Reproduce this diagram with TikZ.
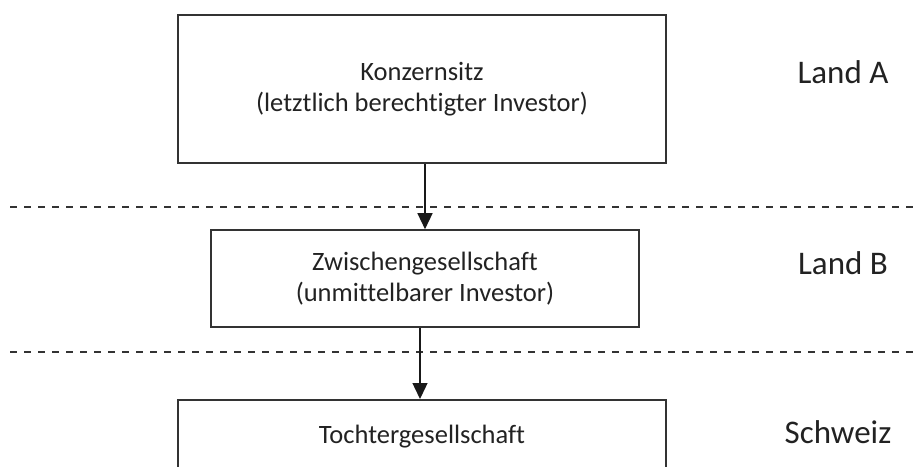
\documentclass[tikz,border=0pt]{standalone}
\usepackage{fontspec}
\setmainfont[Ligatures=NoCommon]{Carlito}
\usetikzlibrary{arrows.meta}
\definecolor{linegray}{HTML}{333333}
\definecolor{textgray}{HTML}{222222}
\tikzset{
		entity/.style  = {shape=rectangle, draw=linegray, line width=1.6pt,
				align=center, text=textgray, inner sep=0pt,
				font=\fontsize{26.5}{31}\selectfont},
		country/.style = {text=textgray, font=\fontsize{33}{40}\selectfont},
		border/.style  = {draw=linegray, line width=1.4pt, dash pattern=on 7pt off 7pt},
		flow/.style    = {draw=black!90, line width=1.4pt,
				-{Triangle[length=16pt,width=15pt]}}
	}

\begin{document}
\begin{tikzpicture}
				[x = 1pt, y = -1pt]
				\useasboundingbox (0,0) rectangle (915,466);
				\clip (0,0) rectangle (915,466);
				% Ebenen
				\draw [border] (10,207) -- (915,207);
				\draw [border] (10,352) -- (915,352);
				% Gesellschaften
				\node [entity, minimum width=488pt, minimum height=148pt] (sitz) at (422,89)
				{Konzernsitz\\(letztlich berechtigter Investor)};
				\node [entity, minimum width=428pt, minimum height=97pt] (zwischen) at (425,278.5)
				{Zwischengesellschaft\\(unmittelbarer Investor)};
				\node [entity, anchor=north, minimum width=488pt, minimum height=74pt] (tochter) at (422,399)
				{Tochtergesellschaft};
				% Beteiligungen
				\draw [flow] ([xshift=3pt]sitz.south) -- ([xshift=3pt]sitz.south |- zwischen.north);
				\draw [flow] ([xshift=-5pt]zwischen.south) -- ([xshift=-5pt]zwischen.south |- tochter.north);
				% Laender
				\node [country] (landA) at (843,72) {Land A};
				\node [country] (landB) at (843,263) {Land B};
				\node [country] (schweiz) at (838,432) {Schweiz};
			\end{tikzpicture}
\end{document}
